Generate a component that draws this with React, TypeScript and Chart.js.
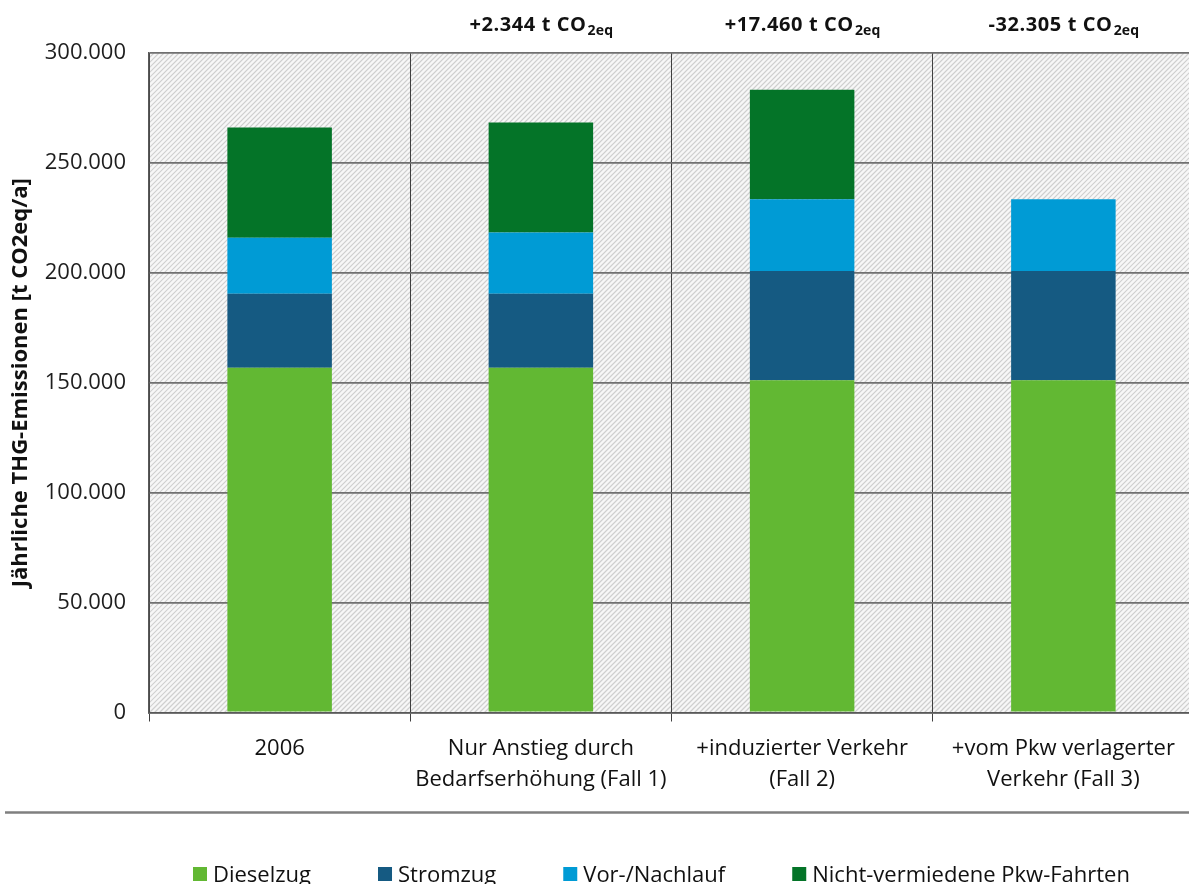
import React, { useEffect, useRef } from "react";
import { Chart, registerables } from "chart.js";

Chart.register(...registerables);

const categories: string[][] = [
  ["2006"],
  ["Nur Anstieg durch", "Bedarfserhöhung (Fall 1)"],
  ["+induzierter Verkehr", "(Fall 2)"],
  ["+vom Pkw verlagerter", "Verkehr (Fall 3)"],
];
const seriesNames = ["Dieselzug", "Stromzug", "Vor-/Nachlauf", "Nicht-vermiedene Pkw-Fahrten"];
const dieselzug = [156800, 156800, 151100, 151100];
const stromzug = [33700, 33700, 49700, 49700];
const vorNachlauf = [25500, 27800, 32700, 32700];
const nichtVermieden = [50100, 50100, 49800, 0];
const deltaLabels = ["", "+2.344", "+17.460", "-32.305"];
const deltaUnit = " t CO";
const deltaSub = "2eq";
const yTitle = "Jährliche THG-Emissionen [t CO2eq/a]";
const colors = ["#62b833", "#155a82", "#009bd5", "#047428"];

const FONT = "'Open Sans', 'DejaVu Sans', sans-serif";

function fmt(v: number | string): string {
  return String(v).replace(/\B(?=(\d{3})+(?!\d))/g, ".");
}

const hatchPlugin = {
  id: "hatch",
  beforeDraw(chart: any) {
    const { ctx, chartArea } = chart;
    const { left, top, right, bottom } = chartArea;
    ctx.save();
    ctx.beginPath();
    ctx.rect(left, top, right - left, bottom - top);
    ctx.clip();
    ctx.fillStyle = "#f7f7f7";
    ctx.fillRect(left, top, right - left, bottom - top);
    ctx.strokeStyle = "#cfcfcf";
    ctx.lineWidth = 1.2;
    const h = bottom - top;
    ctx.beginPath();
    for (let x = left - h; x < right + 5; x += 5) {
      ctx.moveTo(x, bottom);
      ctx.lineTo(x + h, top);
    }
    ctx.stroke();
    ctx.restore();
  },
};

const annotationPlugin = {
  id: "deltaAnnotations",
  afterDraw(chart: any) {
    const { ctx } = chart;
    const xScale = chart.scales.x;
    ctx.save();
    ctx.fillStyle = "#111111";
    ctx.textBaseline = "alphabetic";
    ctx.textAlign = "left";
    deltaLabels.forEach((lab, i) => {
      if (!lab) return;
      const cx = xScale.getPixelForValue(i);
      const main = lab + deltaUnit;
      ctx.font = `bold 20px ${FONT}`;
      (ctx as any).letterSpacing = "0.6px";
      const wMain = ctx.measureText(main).width;
      ctx.font = `bold 14px ${FONT}`;
      (ctx as any).letterSpacing = "0.2px";
      const wSub = ctx.measureText(deltaSub).width;
      const x0 = cx - (wMain + wSub) / 2;
      ctx.font = `bold 20px ${FONT}`;
      (ctx as any).letterSpacing = "0.6px";
      ctx.fillText(main, x0, 30.5);
      ctx.font = `bold 14px ${FONT}`;
      (ctx as any).letterSpacing = "0.2px";
      ctx.fillText(deltaSub, x0 + wMain + 1, 35);
    });
    ctx.restore();
  },
};

const legendPlugin = {
  id: "customLegend",
  afterDraw(chart: any) {
    const { ctx } = chart;
    ctx.save();
    ctx.strokeStyle = "#7f7f7f";
    ctx.lineWidth = 2.5;
    ctx.beginPath();
    ctx.moveTo(5, 812.5);
    ctx.lineTo(chart.width, 812.5);
    ctx.stroke();
    ctx.font = `22px ${FONT}`;
    ctx.textBaseline = "alphabetic";
    ctx.textAlign = "left";
    let x = 193;
    chart.data.datasets.forEach((ds: any) => {
      ctx.fillStyle = ds.backgroundColor;
      ctx.fillRect(x, 867, 14, 14);
      ctx.fillStyle = "#111111";
      ctx.fillText(ds.label, x + 20, 881.5);
      const w = ctx.measureText(ds.label).width;
      x += 20 + w + 67;
    });
    ctx.restore();
  },
};

export default function App() {
  const canvasRef = useRef<HTMLCanvasElement | null>(null);

  useEffect(() => {
    if (!canvasRef.current) return;
    const series = [dieselzug, stromzug, vorNachlauf, nichtVermieden];
    const chart = new Chart(canvasRef.current, {
      type: "bar",
      data: {
        labels: categories as any,
        datasets: series.map((d, i) => ({
          label: seriesNames[i],
          data: d,
          backgroundColor: colors[i],
          borderWidth: 0,
          barPercentage: 0.4,
          categoryPercentage: 1,
        })),
      },
      options: {
        animation: false,
        responsive: false,
        layout: { padding: { top: 53, right: 2, left: 0, bottom: 0 } },
        plugins: {
          legend: { display: false },
          tooltip: { enabled: false },
        },
        scales: {
          x: {
            stacked: true,
            grid: { offset: true, color: "#3f3f3f", lineWidth: 1, tickLength: 9, drawTicks: true },
            border: { color: "#595959", width: 1.5 },
            ticks: {
              color: "#111111",
              font: { family: FONT, size: 22, lineHeight: 1.41 },
              padding: 12,
              maxRotation: 0,
              autoSkip: false,
            },
            afterFit: (s: any) => {
              s.height = 171.5;
            },
          },
          y: {
            stacked: true,
            min: 0,
            max: 300000,
            ticks: {
              stepSize: 50000,
              callback: (v: any) => fmt(v),
              color: "#1e1e1e",
              font: { family: FONT, size: 22 },
              padding: 23,
            },
            grid: { color: "#707070", lineWidth: 1.8, drawTicks: false },
            border: { color: "#595959", width: 1.5 },
            title: {
              display: true,
              text: yTitle,
              color: "#111111",
              font: { family: FONT, size: 22, weight: "bold" },
              padding: { top: 8, bottom: 0 },
            },
            afterFit: (s: any) => {
              s.width = 149;
            },
          },
        },
      } as any,
      plugins: [hatchPlugin, annotationPlugin, legendPlugin],
    });
    return () => chart.destroy();
  }, []);

  return (
    <div
      style={{
        position: "absolute",
        left: 0,
        top: 0,
        width: 1189,
        height: 884,
        overflow: "hidden",
        background: "#ffffff",
      }}
    >
      <canvas ref={canvasRef} width={1196} height={884} style={{ display: "block" }} />
    </div>
  );
}
